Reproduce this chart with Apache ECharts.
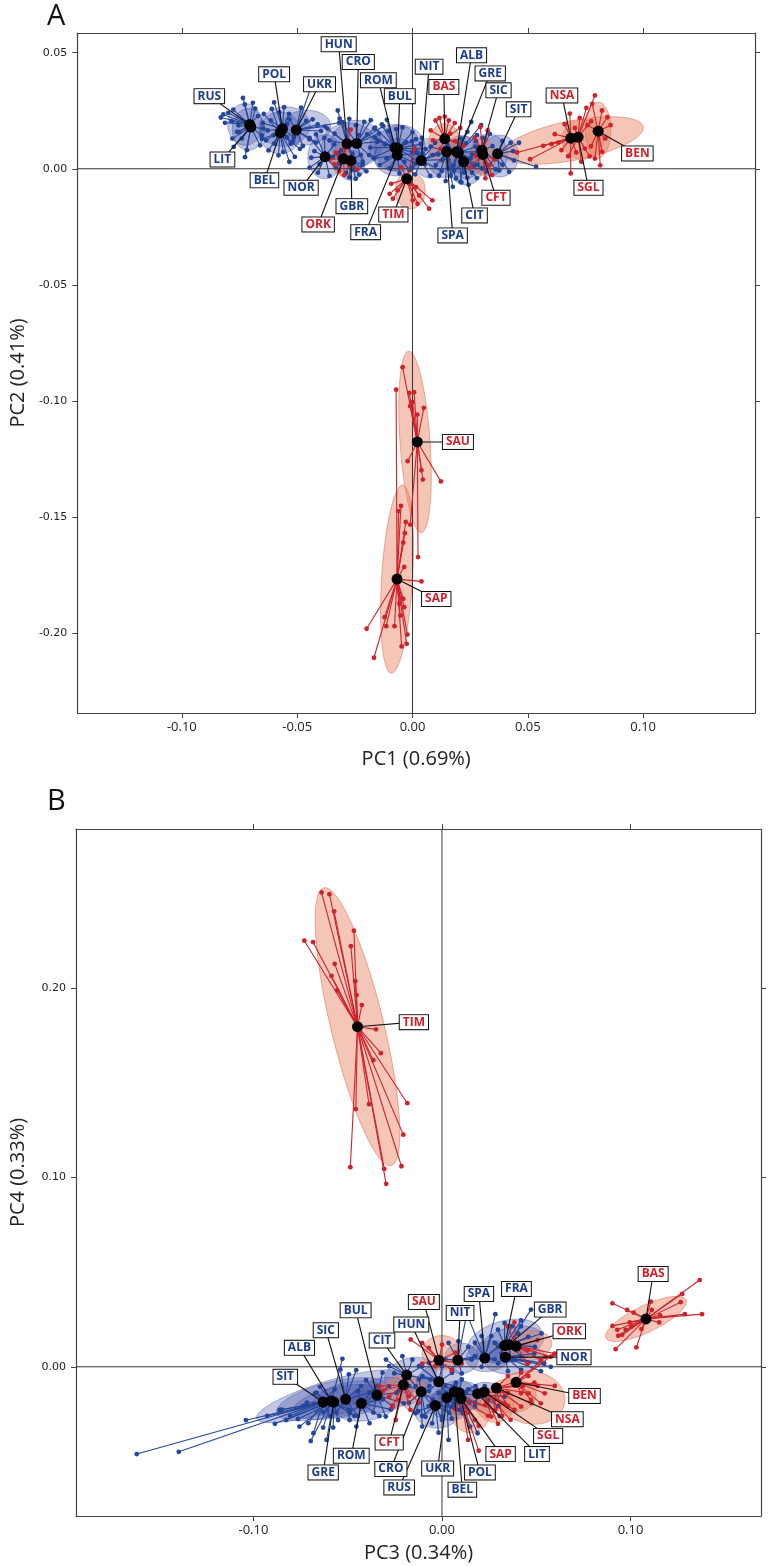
<!DOCTYPE html>
<html><head><meta charset="utf-8">
<script src="https://cdn.jsdelivr.net/npm/echarts@6/dist/echarts.min.js"></script>
<style>html,body{margin:0;padding:0;background:#fff}#c{width:769px;height:1566px}</style>
</head><body><div id="c"></div>
<script>
// ---------- DATA ----------
const POPS = ['RUS','LIT','POL','BEL','UKR','NOR','HUN','CRO','GBR','ROM','BUL','FRA','NIT','SPA','ALB','GRE','CIT','SIC','SIT',
              'ORK','TIM','BAS','CFT','NSA','SGL','BEN','SAU','SAP'];
const RED_POPS = ['ORK','TIM','BAS','CFT','NSA','SGL','BEN','SAU','SAP'];

const xTicksA = [-0.10,-0.05,0.00,0.05,0.10];
const yTicksA = [0.05,0.00,-0.05,-0.10,-0.15,-0.20];
const xTicksB = [-0.10,0.00,0.10];
const yTicksB = [0.20,0.10,0.00];

// Panel A: population centroids (PC1, PC2)
const centA = {
  RUS:[-0.0706,0.0191], LIT:[-0.0701,0.0180], POL:[-0.0564,0.0172], BEL:[-0.0574,0.0155], UKR:[-0.0504,0.0167],
  NOR:[-0.0379,0.0052], HUN:[-0.0284,0.0108], CRO:[-0.0242,0.0109], ORK:[-0.0299,0.0043], GBR:[-0.0267,0.0036],
  ROM:[-0.0076,0.0091], BUL:[-0.0064,0.0088], FRA:[-0.0066,0.0059], TIM:[-0.0025,-0.0043], NIT:[0.0038,0.0036],
  BAS:[0.0140,0.0129], SPA:[0.0148,0.0073], ALB:[0.0191,0.0073], GRE:[0.0199,0.0069], CIT:[0.0222,0.0030],
  SIC:[0.0301,0.0080], CFT:[0.0305,0.0062], SIT:[0.0369,0.0065], NSA:[0.0686,0.0132], SGL:[0.0718,0.0136],
  BEN:[0.0805,0.0162], SAU:[0.0021,-0.1177], SAP:[-0.0067,-0.1768]
};
// Panel A: individuals, offsets from centroid (x1e-3)
const indA = {
  RUS:[[-11.4,4.3],[-9.3,5],[-7.1,6.4],[-2.9,11.4],[-2.1,8.6],[1.4,9.3],[3.6,3.6],[-7.9,1.4],[-10.7,0.7],[-4.5,-3.2],[-12.5,3]],
  LIT:[[-6,-2.1],[-3.9,-5],[-7.4,-8.6],[-1.7,-10],[4,-7.9],[4.7,-3.6],[5.4,-0.7],[-5.3,0.7],[1.9,7.9],[-8,-5],[-2.5,-13]],
  POL:[[-3.6,11.4],[-1.4,7.1],[0.7,9.3],[2.9,6.4],[-5,3.6],[-6.4,-0.7],[-7.1,-5],[-3.6,-6.4],[3.6,-6.4],[5,-3.6],[2.1,2.1],[-8.5,2.5]],
  BEL:[[-5,-7.6],[-0.7,-9.7],[1.4,-8.3],[-7.9,-2.6],[-7.1,8.1],[-3.6,10.3],[6.4,-10.4],[2.9,-1.9],[-2.9,-1.1],[8.6,-6.9],[4,-12.5]],
  UKR:[[6.3,18.2],[7.1,4.6],[9.3,2.4],[10.7,-0.4],[5.7,-4],[2.9,-6.9],[8.6,-5.4],[2.1,9.6],[4.3,3.9],[-2.9,4.6],[-1.4,-4.7],[18.6,3.1],[12.5,1.5]],
  NOR:[[-6.7,8.1],[-3.9,9.6],[-4.6,2.4],[-6,-0.4],[-6.7,-4.7],[-3.1,-6.9],[1.9,-8.3],[4.7,-4.7],[6.1,1],[4,5.3],[-0.3,8.1],[-2.4,-3.3]],
  HUN:[[-4,14.3],[-1.9,9.3],[1,10.7],[-5.4,4.3],[-7.6,1.4],[-6.1,-5.7],[-3.3,-8.6],[2.4,-4.3],[3.9,-11.4],[-2.6,-2.9],[-8.5,6.5]],
  CRO:[[-0.3,7.9],[3.3,9.3],[6.1,10],[7.6,6.4],[9.7,4.3],[9,0.7],[5.4,-5],[2.6,-7.9],[1.1,3.6],[-7.4,10.7],[11.5,7.5]],
  GBR:[[3.6,-6.1],[2.1,-7.9],[-0.7,-7.3],[-2.1,-5.4],[5,-1.9],[4.3,2.4],[-5,1.7],[0.7,-4],[6.7,-4.7]],
  ROM:[[-8.6,8.6],[-5.7,10],[-2.9,7.1],[-10.7,0],[-7.1,2.9],[-8.6,4.3],[-4.3,1.4],[-9.3,-4.3],[-12.1,5.7],[-3.5,12]],
  BUL:[[2.1,9],[6.4,6.9],[7.9,4],[10,1.9],[3.6,2.6],[6.4,-1.7],[-0.7,8.3],[12.1,-0.3],[9.5,-6]],
  FRA:[[11,0.7],[8.1,-3.6],[5.3,-6.4],[1,-7.9],[-3.3,-5.7],[-7.6,-4.3],[-4.7,-1.4],[3.1,-2.9],[-10,-1.5]],
  NIT:[[-4,8.3],[0.3,9.7],[6,7.6],[10.3,5.4],[11.7,0.4],[8.9,-4.6],[3.9,-6.7],[-2.6,-6],[1.7,-1.7],[7.4,2.6],[-1.9,3.3],[-4,-3.1]],
  SPA:[[-4.7,-5.7],[-3.3,-10.3],[-0.4,-12.6],[2.7,-15.1],[4.1,-11.5],[-1.9,-3.6],[-6.1,-1.4],[1,-7.2],[-6.9,2.2]],
  ALB:[[1.9,5.7],[4.7,8.6],[6.4,12.9],[4,3.6],[9,0],[7.6,-6],[3.3,-8.9],[-1.3,-6],[-3.9,2.9]],
  GRE:[[8.1,7.6],[9.9,11.9],[5.3,-2.4],[3.9,-10.8],[10.3,-6.8],[1.3,-12.8],[-3.3,-9.9],[7.4,2.6]],
  CIT:[[3.6,-4.6],[5.7,-7],[2.1,-9.9],[-1.4,-8.5],[-4.3,-3.9],[8.1,-2.7],[-2.1,3.3]],
  SIC:[[-2.6,3.9],[0.3,5.3],[3.4,7],[4.6,1.7],[-4.3,-1.9],[-1.9,-6.2],[1.7,-9.3],[6,-8.3],[8.9,-6.2]],
  SIT:[[2.1,5.5],[5.7,4.7],[6.7,1.1],[7.1,-2.9],[5,-7.8],[0.7,-7.2],[-3.6,-4.9],[16.7,-5.6],[9.3,4.7]],
  ORK:[[-6.1,-0.3],[-4,-2.4],[-1.9,-5.3],[0.3,-7],[2.4,-2.7],[3.1,12.6],[0.3,4.7],[-3.3,2.6],[6,-4.6]],
  TIM:[[-6.7,-2.2],[-7.4,-6.5],[-6,-8.6],[-3.9,-5],[1.1,-2.2],[4,-3.6],[5.4,-7.2],[9.7,-12.9],[11.1,-9.3],[4.7,-10.8],[2.6,-9.3],[-2.4,5],[3.3,12.9]],
  BAS:[[-4,7.9],[-2.3,9],[0,9.6],[1.7,7.9],[4.3,6.8],[6.7,4.7],[-6.1,3.6],[-5.1,-0.7],[-1.9,-4.3],[4.6,-1],[8.1,-2.9],[2.4,2.2]],
  CFT:[[-3.6,7.2],[-1.1,11.8],[2.1,10.3],[-3.1,-0.7],[2.6,-4.6],[4,-8.9],[1.1,-10.3],[5,-2.2],[-5.7,-5.7]],
  NSA:[[-23.3,-6.2],[-17.6,-9.1],[-11.9,-3.3],[-8.3,-2.6],[-6.9,1.7],[-5.4,-1.9],[-2.6,6],[-0.4,10.6],[-4,-5.2],[0,-15.2],[2.4,-6.2]],
  SGL:[[7.3,18],[3.6,12.6],[5.7,6.9],[0.7,8.3],[2.9,-4.9],[1.4,-10.6],[5,-8.2],[-1.4,4],[-4.3,-8.2]],
  BEN:[[-2.6,11.8],[1.7,8.9],[4,6],[5.4,2.6],[3.1,-3.2],[1.7,-8.9],[0.9,-14.7],[-1.4,-11.8],[-3.1,-6.5],[-4.6,2.6]],
  SAU:[[-6.4,32.2],[-3.5,21.1],[-1.4,21.4],[-2.1,17.1],[-3.1,15.4],[2.8,14.7],[0,11.8],[1.8,-12.2],[10.2,-17],[-4.2,-8.3],[-3.1,-35.6],[0.3,-49.6],[2.4,-16.2]],
  SAP:[[-0.4,81.6],[1.7,31.5],[0.7,29.3],[3.8,24.6],[3.4,19.8],[2.7,15.7],[3.1,5.2],[10.6,-1],[-13.2,-21.4],[-5.4,-16.4],[-4.7,-20.3],[-1.1,-20.3],[1.4,-15.7],[2.7,-8.5],[3.1,-12.1],[4.5,-23.9],[4.2,-27.9],[2,-29],[-10,-33.9],[1,-10.6]]
};
// Panel A: ellipses [dx, dy, semi-axis along angle, other semi-axis, angle deg] (x1e-3)
const ellA = {
  RUS:[-2,0,7.5,9,0], LIT:[-1,-1,7,9,0], POL:[1,1,11,8.5,5], BEL:[0,0,9,9,0], UKR:[4,1,11,7.5,5],
  NOR:[0,0,7.5,9.5,0], HUN:[1,-1,12,10,0], CRO:[0,0,11,10,0], ORK:[0,-1,5,6.5,0], GBR:[0,-2,6,6.5,0],
  ROM:[0,0,11,10,0], BUL:[1,0,11,10,0], FRA:[0,-1,10,8,0], TIM:[1.5,-5,6.5,8,0], NIT:[4,1,8,8.5,0],
  BAS:[0,-2,7,8.5,0], SPA:[-1,-3,7,8,0], ALB:[2,-1,7,8,0], GRE:[3,-2,8,9,0], CIT:[1,-3,7,7,0],
  SIC:[3,-2,8,9,0], CFT:[0,-1,5.5,8,0], SIT:[1,-1,8,9,0], NSA:[1,-1,31,8.5,11], SGL:[2,-1,9,8.5,0],
  BEN:[0,0.5,5.5,12,0], SAU:[-1,0,39.2,6.5,94], SAP:[0,0,40.6,6.7,86.5]
};

// Panel B: population centroids (PC3, PC4)
const centB = {
  SIT:[-0.0630,-0.0186], ALB:[-0.0586,-0.0181], GRE:[-0.0574,-0.0186], SIC:[-0.0511,-0.0172], ROM:[-0.0428,-0.0193],
  BUL:[-0.0345,-0.0149], CIT:[-0.0187,-0.0044], CFT:[-0.0205,-0.0095], CRO:[-0.0110,-0.0132], RUS:[-0.0035,-0.0204],
  HUN:[-0.0017,-0.0079], SAU:[-0.0016,0.0035], NIT:[0.0084,0.0035], UKR:[0.0026,-0.0163], BEL:[0.0065,-0.0132],
  POL:[0.0091,-0.0137], SAP:[0.0101,-0.0168], LIT:[0.0189,-0.0142], SGL:[0.0224,-0.0133], NSA:[0.0289,-0.0112],
  SPA:[0.0227,0.0046], FRA:[0.0332,0.0112], GBR:[0.0353,0.0116], ORK:[0.0393,0.0109], NOR:[0.0336,0.0051],
  BEN:[0.0393,-0.0082], TIM:[-0.0448,0.1796], BAS:[0.1082,0.0253]
};
// Panel B: individuals, offsets from centroid (x1e-3)
const indB = {
  SIT:[[-98.9,-27.5],[-76.6,-26.3],[-41,-9.6],[-10.5,-2.1],[-17.5,-7.4],[-7.9,-11.2],[-5.2,-16.5],[3.8,-7.4],[-3.5,4.9],[6.1,6.7],[-22,-4]],
  ALB:[[-34.1,-7.9],[-27.5,-4.7],[-24,-10],[-17,-13.5],[-11,-21.1],[-4.4,-14],[5.8,22.3],[-6.1,7.5],[12.2,-7.9],[-30,-12]],
  GRE:[[-5.6,-5.3],[2.3,-9.5],[-0.3,-13.5],[-10,4.6],[8.4,-4.2],[-3.8,-20],[-14.3,-0.4],[-19,-9]],
  SIC:[[-2.8,15.8],[1.7,13.2],[5.6,15.4],[8.2,7],[12.6,3.5],[6.5,-8.8],[2.1,-10.9],[-4.9,-7]],
  ROM:[[-1.7,6.5],[7.9,9.1],[11.4,2.1],[9.6,-6.7],[4.4,-10.5],[-2.6,-12.3],[-6.1,-5.3],[15.7,-3.2]],
  BUL:[[-5.8,7.9],[3,11.8],[6.5,4.7],[10.3,1.2],[8.2,-5.8],[4.7,-11.4],[-1.9,-9.3],[-7.5,-4],[14.3,-4.4]],
  CIT:[[-11,8.2],[-9.3,4.7],[-6.6,0.9],[-2.3,10],[3,8.2],[8.2,4.7],[4.7,-5.8],[-4,-7.9],[12.6,-2.3]],
  CFT:[[-11,-3.3],[-7.5,-6.3],[-2.3,-8.1],[3,-6],[8.2,-9.5],[-5.8,-11.6],[-12.8,-0.7],[3.8,-13.3],[-4,-18.6]],
  CRO:[[-6.5,-5.8],[-3,-11.4],[2.3,-13.2],[7.5,-9.3],[6.1,-4],[-1.2,6.5],[4.4,3],[-6.5,3],[0.5,-18.4]],
  RUS:[[-7,-5.6],[-1.7,-9.5],[3.5,-7.7],[7.3,-3.9],[-3.5,-0.4],[-9.1,-3],[1.7,-14.4],[10.5,-1.2]],
  HUN:[[-10.5,8.2],[-5.2,10],[1.7,8.2],[7,4.7],[8.7,-2.3],[3.8,-5.8],[-5.2,-4.9],[-8.7,3]],
  SAU:[[-8.9,9.1],[-5.4,6.5],[1.6,8.2],[8.6,3.9],[12.1,-1.8],[6.8,-5.3],[-1.9,-3.2],[-8.9,-1.8],[-15,10.9]],
  NIT:[[-4.9,9.1],[0.3,10],[5.6,7],[9.1,2.1],[7.3,0.4],[2.1,-7],[-3.1,-5.3],[-6.6,0.4],[4.2,21.8]],
  UKR:[[-6.1,-4.4],[-2.6,-10],[2.6,-11.1],[6.5,-6.5],[4.7,-0.9],[-4.4,2.6],[0.9,-22.3]],
  BEL:[[-1.2,-7.9],[4.4,-11.4],[7.9,-5.8],[6.1,-0.5],[0.9,4.7],[-4.7,3],[8.4,-18.4]],
  POL:[[3.1,-7.4],[8.4,-5.3],[11.9,-1.8],[8.7,3.5],[1.4,7],[-2.1,-5.6],[9.8,-21.4]],
  SAP:[[3.8,-7.4],[7.3,-11.2],[9.4,-14.4],[9.4,-27.5],[3.8,-21.8],[14.3,-9.1],[18.2,-6],[12.9,-3.5],[-3.1,-5.6]],
  LIT:[[5.6,-3.3],[10.8,-6.5],[14.3,-1.6],[3.8,4],[-1.4,-6.8],[11.7,-11.8],[-4.9,2.3]],
  SGL:[[5.6,-3.9],[10.8,-6],[16.1,-9.5],[14,-14.7],[7.3,-16.8],[3.8,-13],[1.2,-6],[12.6,-0.4]],
  NSA:[[6.1,6.3],[10,3.2],[14,1.1],[17,-2.8],[18.7,-8.1],[13.1,-9.8],[6.1,-9.5],[3,-14.7],[-1.2,-12.1],[20.1,2.8]],
  BEN:[[2.6,5.1],[6.5,3.3],[11.4,-1.9],[15.2,-5.8],[13.1,-11.1],[7.9,-9.3],[2.6,-5.8],[20.5,-1.9],[20.1,14.9],[15.7,13.5]],
  SPA:[[-5.2,8.1],[-1.7,11.6],[3.5,11.6],[7,6],[5.2,-0.7],[-1.7,-4.6],[-7,-0.7],[5.6,23.2],[-9.1,22.3]],
  FRA:[[-3.5,8.4],[0,11.9],[3.8,10.2],[7.3,6.3],[5.2,-0.7],[-1.7,-4.2],[-5.2,1.4],[8.7,13.3]],
  GBR:[[6.6,9.8],[11.9,18.6],[10.5,4.2],[14,-1.1],[6.6,-6],[1.4,-7.7],[17.5,6]],
  ORK:[[6.1,-2.1],[11.4,3.2],[18.4,-5.6],[20.5,-3.9],[13.1,-7.4],[6.1,-9.1],[-4.4,10.5],[-0.9,12.6]],
  NOR:[[4.9,-1.6],[12.2,-3],[20.6,-3.3],[24.1,-5.1],[18.9,-7.4],[8.4,-6.8],[1.4,-7.4],[-3.8,-3.3],[15.4,1.9]],
  TIM:[[-19.1,70.9],[-14.9,70],[-12.4,60.9],[-28.2,45.4],[-23.6,44.7],[-1.9,50.7],[-3.5,42.5],[-12.1,33.2],[-13.8,26.8],[-10.8,19.1],[-1.2,24],[-0.5,16.7],[2.3,11.4],[9.8,-1.4],[12.4,-14],[8.4,-17.7],[26.4,-40.4],[-0.9,-43.5],[6.1,-40.9],[24.3,-57],[-3.8,-74.2],[14.2,-75.1],[23.3,-73.7],[15.2,-83]],
  BAS:[[28.5,20.5],[19.2,13.2],[18.4,8.8],[29.7,2.5],[20.6,2.5],[-17.8,8.2],[-10,4.7],[-6.5,3.3],[2.6,9.1],[3.1,4.7],[7.5,1.9],[7,-1.9],[-8.6,-1.8],[-7.7,-4],[-2.4,-5.4],[-10.8,-5.8],[-15.2,-5.8],[-17.8,-3.7],[-12.6,-8.4],[-14.7,-8.9],[-5.1,-15.1],[-16.1,-16]]
};
const ellB = {
  SIT:[3,3,40,8,17], ALB:[0,1,30,9,14], GRE:[2,0,24,8,12], SIC:[2,0,20,9,12], ROM:[3,-1,17,8,10],
  BUL:[3,0,16,9,12], CIT:[2,0,14,9,15], CRO:[1,-2,12,10,0], HUN:[0,0,12,9,10], RUS:[1,-3,12,9,0],
  UKR:[2,-3,11,9,0], BEL:[2,-3,10,9,0], POL:[2,-2,10,8,0], LIT:[4,-2,10,8,0], NIT:[2,1,9,8,0],
  FRA:[0,3,20,10,15], GBR:[1,0,18,9,15], SPA:[2,1,12,8,10], NOR:[5,-1,16,8,5], CFT:[0,-3,12,8,10],
  SAU:[1.5,4,10.5,9,0], SAP:[5,-8,10,10,0], SGL:[6,-7,10,9,0], NSA:[8,-4,13,9,0], BEN:[8,-8,18,14,-10],
  ORK:[6,0,13,8,10], TIM:[0,0,75.5,14,103.7], BAS:[0,0,23.5,7,25.5]
};

// ---------- LAYOUT (label anchor positions, in axis units) ----------
const labA = {
  RUS:[-0.0881,0.0313], LIT:[-0.0824,0.0040], POL:[-0.0600,0.0407], BEL:[-0.0642,-0.0050], UKR:[-0.0403,0.0364],
  NOR:[-0.0483,-0.0082], HUN:[-0.0320,0.0536], CRO:[-0.0235,0.0460], ROM:[-0.0148,0.0381], BUL:[-0.0055,0.0313],
  NIT:[0.0072,0.0440], ALB:[0.0256,0.0489], BAS:[0.0136,0.0352], GRE:[0.0337,0.0411], SIC:[0.0373,0.0338],
  SIT:[0.0460,0.0256], NSA:[0.0648,0.0316], BEN:[0.0975,0.0066], SGL:[0.0763,-0.0082], CFT:[0.0362,-0.0125],
  CIT:[0.0269,-0.0201], SPA:[0.0174,-0.0287], FRA:[-0.0203,-0.0273], TIM:[-0.0083,-0.0197], GBR:[-0.0263,-0.0161],
  ORK:[-0.0409,-0.0240], SAU:[0.0197,-0.1177], SAP:[0.0103,-0.1854]
};
const labB = {
  SIT:[-0.0831,-0.0053], ALB:[-0.0756,0.0100], GRE:[-0.0630,-0.0558], SIC:[-0.0616,0.0193], ROM:[-0.0481,-0.0470],
  BUL:[-0.0458,0.0298], CIT:[-0.0318,0.0139], CFT:[-0.0280,-0.0400], CRO:[-0.0271,-0.0540], RUS:[-0.0227,-0.0637],
  HUN:[-0.0163,0.0223], SAU:[-0.0096,0.0342], NIT:[0.0096,0.0284], UKR:[-0.0023,-0.0537], BEL:[0.0108,-0.0649],
  POL:[0.0201,-0.0558], SAP:[0.0311,-0.0461], LIT:[0.0504,-0.0461], SGL:[0.0563,-0.0365], NSA:[0.0665,-0.0277],
  SPA:[0.0196,0.0384], FRA:[0.0395,0.0411], GBR:[0.0574,0.0302], ORK:[0.0675,0.0188], NOR:[0.0700,0.0051],
  BEN:[0.0756,-0.0154], TIM:[-0.0149,0.1820], BAS:[0.1120,0.0490]
};

// ---------- STYLE ----------
const BLUE = '#23469a', RED = '#d0222b';
const BLUE_TXT = '#1b3b8c', RED_TXT = '#d41e2a';
const isRed = p => RED_POPS.indexOf(p) >= 0;

function baseData(cent){ return POPS.map((p,i)=>[cent[p][0], cent[p][1], i]); }

function ellipseSeries(ax, cent, ell){
  return {type:'custom', xAxisIndex:ax, yAxisIndex:ax, z:1, silent:true, clip:true,
    data: baseData(cent), encode:{x:0,y:1},
    renderItem(params, api){
      const p = POPS[api.value(2)], e = ell[p], c = cent[p];
      const cx = c[0]+e[0]*1e-3, cy = c[1]+e[1]*1e-3, a = e[2]*1e-3, b = e[3]*1e-3, t0 = e[4]*Math.PI/180;
      const pts = [];
      for(let k=0;k<72;k++){
        const t = k/72*2*Math.PI, u = a*Math.cos(t), v = b*Math.sin(t);
        pts.push(api.coord([cx + u*Math.cos(t0) - v*Math.sin(t0), cy + u*Math.sin(t0) + v*Math.cos(t0)]));
      }
      const r = isRed(p);
      return {type:'polygon', shape:{points:pts},
        style:{fill: r ? 'rgba(230,128,98,0.45)' : 'rgba(68,80,168,0.32)',
               stroke: r ? 'rgba(222,110,80,0.55)' : 'rgba(60,70,150,0.4)', lineWidth:1}};
    }};
}
function zeroSeries(ax){
  return {type:'custom', xAxisIndex:ax, yAxisIndex:ax, z:1.5, silent:true, data:[[0,0]],
    renderItem(params, api){
      const cs = params.coordSys, o = api.coord([0,0]);
      const st = {stroke:'#333', lineWidth:1};
      return {type:'group', children:[
        {type:'line', shape:{x1:o[0], y1:cs.y, x2:o[0], y2:cs.y+cs.height}, style:st},
        {type:'line', shape:{x1:cs.x, y1:o[1], x2:cs.x+cs.width, y2:o[1]}, style:st}]};
    }};
}
function starSeries(ax, cent, ind){
  return {type:'custom', xAxisIndex:ax, yAxisIndex:ax, z:2, silent:true, clip:true,
    data: baseData(cent), encode:{x:0,y:1},
    renderItem(params, api){
      const p = POPS[api.value(2)], c = cent[p], col = isRed(p) ? RED : BLUE;
      const c0 = api.coord(c), ch = [];
      ind[p].forEach(o=>{
        const q = api.coord([c[0]+o[0]*1e-3, c[1]+o[1]*1e-3]);
        ch.push({type:'line', shape:{x1:c0[0],y1:c0[1],x2:q[0],y2:q[1]}, style:{stroke:col, lineWidth:1.1}});
        ch.push({type:'circle', shape:{cx:q[0],cy:q[1],r:2.4}, style:{fill:col}});
      });
      return {type:'group', children:ch};
    }};
}
function leaderSeries(ax, cent, lab){
  return {type:'custom', xAxisIndex:ax, yAxisIndex:ax, z:4, silent:true,
    data: baseData(cent), encode:{x:0,y:1},
    renderItem(params, api){
      const p = POPS[api.value(2)], a = api.coord(cent[p]), b = api.coord(lab[p]);
      return {type:'line', shape:{x1:a[0],y1:a[1],x2:b[0],y2:b[1]}, style:{stroke:'#111', lineWidth:1.1}};
    }};
}
function centroidSeries(ax, cent){
  return {type:'scatter', xAxisIndex:ax, yAxisIndex:ax, z:3, silent:true, symbolSize:11,
    itemStyle:{color:'#000', opacity:1}, data: POPS.map(p=>cent[p])};
}
function labelSeries(ax, lab){
  return {type:'scatter', xAxisIndex:ax, yAxisIndex:ax, z:5, silent:true, symbolSize:1,
    itemStyle:{color:'rgba(0,0,0,0)', opacity:1},
    data: POPS.map(p=>({name:p, value:lab[p],
      label:{show:true, position:'inside', formatter:'{b}', color: isRed(p)?RED_TXT:BLUE_TXT, opacity:1,
        fontFamily:"'Open Sans', sans-serif", fontWeight:'bold', fontSize:12, lineHeight:13,
        backgroundColor:'#fff', borderColor:'#111', borderWidth:1, padding:[1,3,0,3]}}))};
}

const fmt = v => v.toFixed(2);
function axesFor(grid, xr, yr, xt, yt, xName, yName, xNameGap, xLabMargin){
  const line = {show:true, onZero:false, lineStyle:{color:'#444', width:1.2}};
  const tick = (vals)=>({show:true, length:5, inside:false, customValues:vals, lineStyle:{color:'#444'}});
  return {
    x:[
      {type:'value', gridIndex:grid, position:'bottom', min:xr[0], max:xr[1], axisLine:line, splitLine:{show:false},
       axisTick:tick(xt), axisLabel:{customValues:xt, formatter:fmt, margin:8, fontSize:13, color:'#222', fontFamily:"'Open Sans', sans-serif"},
       name:xName, nameLocation:'middle', nameGap:xNameGap, nameTextStyle:{fontSize:20, color:'#222', fontFamily:"'Open Sans', sans-serif"}},
      {type:'value', gridIndex:grid, position:'top', min:xr[0], max:xr[1], axisLine:line, splitLine:{show:false},
       axisTick:tick(xt), axisLabel:{show:false}}
    ],
    y:[
      {type:'value', gridIndex:grid, position:'left', min:yr[0], max:yr[1], axisLine:line, splitLine:{show:false},
       axisTick:tick(yt), axisLabel:{customValues:yt, formatter:fmt, margin:10, fontSize:11, color:'#222', fontFamily:"'DejaVu Sans', sans-serif"},
       name:yName, nameLocation:'middle', nameGap:48, nameRotate:90, nameTextStyle:{fontSize:20, color:'#222', fontFamily:"'Open Sans', sans-serif"}},
      {type:'value', gridIndex:grid, position:'right', min:yr[0], max:yr[1], axisLine:line, splitLine:{show:false},
       axisTick:tick(yt), axisLabel:{show:false}}
    ]};
}

const AX = axesFor(0, [-0.1453,0.1485], [-0.2345,0.0585], xTicksA, yTicksA, 'PC1 (0.69%)', 'PC2 (0.41%)', 36, 8);
const BX = axesFor(1, [-0.1941,0.1692], [-0.0788,0.284], xTicksB, yTicksB, 'PC3 (0.34%)', 'PC4 (0.33%)', 27, 9);

const xAxes = [AX.x[0], AX.x[1], BX.x[0], BX.x[1]];
const yAxes = [AX.y[0], AX.y[1], BX.y[0], BX.y[1]];

function panel(ax, cent, ind, ell, lab){
  return [ellipseSeries(ax, cent, ell), zeroSeries(ax), starSeries(ax, cent, ind),
          centroidSeries(ax, cent), leaderSeries(ax, cent, lab), labelSeries(ax, lab)];
}

const chart = echarts.init(document.getElementById('c'), null, {renderer:'canvas'});
chart.setOption({
  animation:false,
  backgroundColor:'#fff',
  grid:[{left:74, top:33, width:681, height:680}, {left:74, top:829, width:687, height:687}],
  xAxis: xAxes, yAxis: yAxes,
  graphic:[
    {type:'text', left:47, top:2, style:{text:'A', fontSize:29, fill:'#111', fontFamily:"'Open Sans', sans-serif"}},
    {type:'text', left:47, top:787, style:{text:'B', fontSize:29, fill:'#111', fontFamily:"'Open Sans', sans-serif"}}
  ],
  series: [...panel(0, centA, indA, ellA, labA), ...panel(2, centB, indB, ellB, labB)]
});
</script></body></html>
